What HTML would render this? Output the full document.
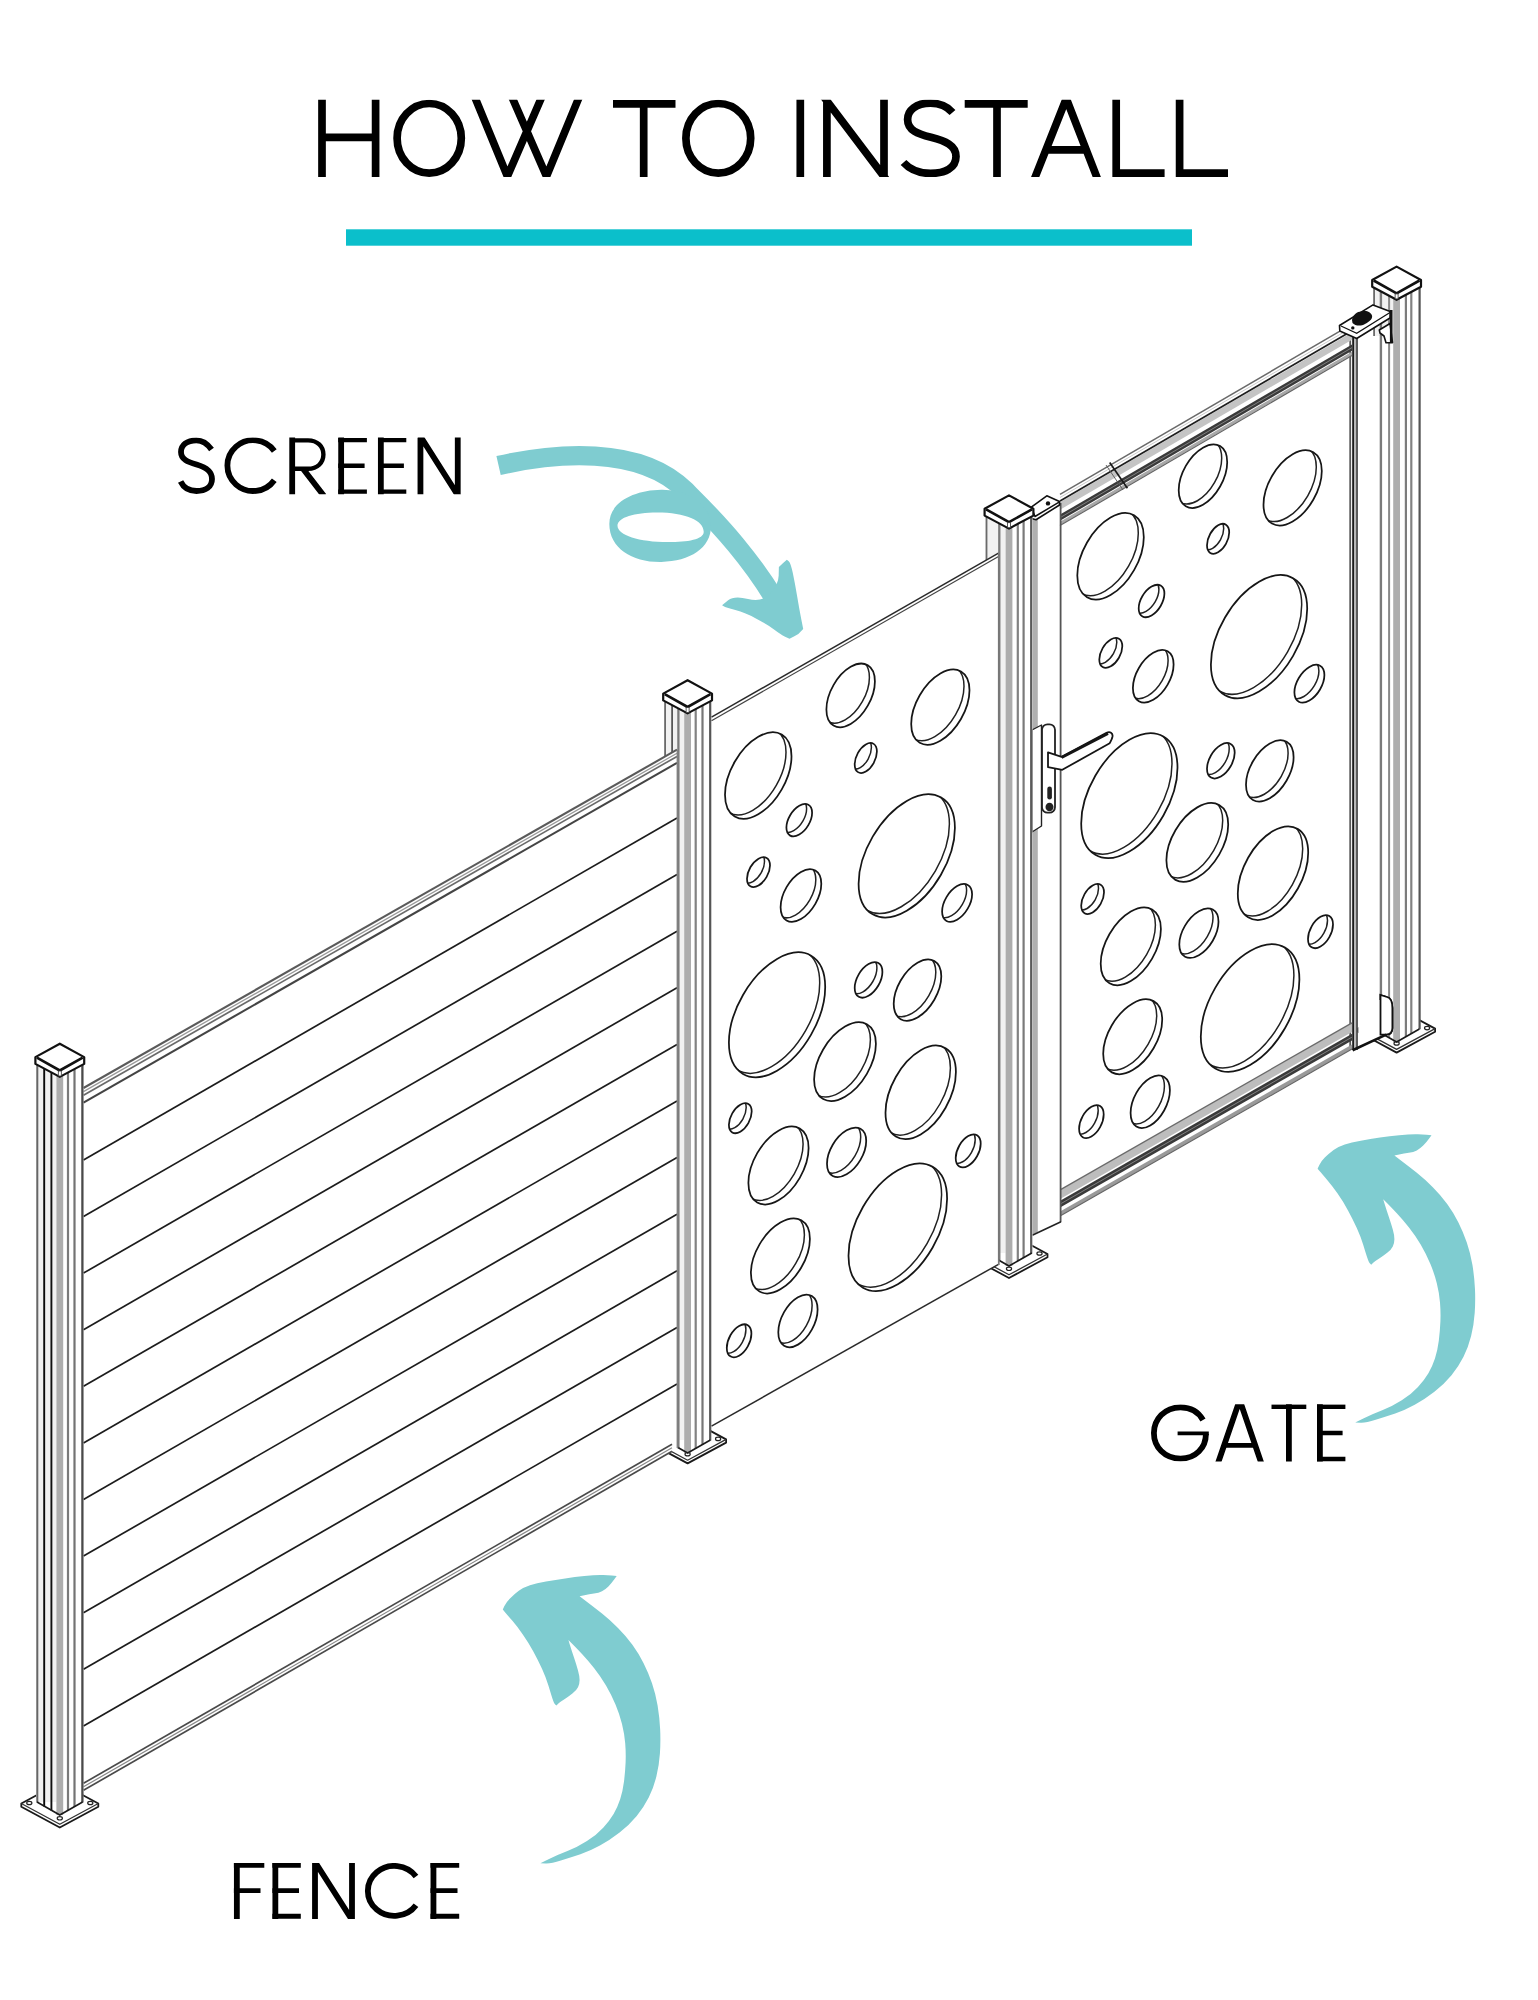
<!DOCTYPE html>
<html><head><meta charset="utf-8"><style>html,body{margin:0;padding:0;background:#fff;}svg{display:block;}</style></head>
<body><svg width="1538" height="2000" viewBox="0 0 1538 2000">
<rect width="1538" height="2000" fill="#fff"/>
<clipPath id="tclip"><rect x="300" y="99.8" width="950" height="77.2"/></clipPath>
<g clip-path="url(#tclip)" stroke="#000" stroke-width="7.7" fill="none" stroke-linejoin="miter" stroke-miterlimit="10">
<path d="M322,95 V182 M375.6,95 V182 M322,137.4 H375.6"/>
<ellipse cx="429.2" cy="138.3" rx="32.1" ry="34.8"/>
<path d="M472.3,91 L507.4,176.3 L542.6,95 M509.3,91 L546.5,176.3 L580,95" />
<path d="M613,103.9 H675.5 M643.7,100 V182"/>
<ellipse cx="718.3" cy="138.3" rx="32.4" ry="34.8"/>
<path d="M800.3,95 V182"/>
<path d="M826.9,95 V182 M884,95 V182 M822.4,95 L888.1,182"/>
<path d="M952.5,112.5 C946,105 938,103.2 930.5,103.2 C916,103.2 907.6,110 907.6,119.5 C907.6,130.5 918,134 931,137.3 C945,141 956,145 956,156.5 C956,168 945,173.4 930.5,173.4 C919,173.4 909.5,169 903.5,162.5"/>
<path d="M964.7,103.9 H1027.7 M997,100 V182"/>
<path d="M1033.2,182 L1066.3,98.5 L1098.7,182 M1045,149.8 H1088"/>
<path d="M1116.2,95 V173.1 H1164.6 M1179.6,95 V173.1 H1228"/>
</g>
<rect x="346" y="229.3" width="846" height="16.4" fill="#0bbfcb"/>
<clipPath id="sclip"><rect x="170" y="437.4" width="300" height="56.8"/></clipPath>
<g clip-path="url(#sclip)" stroke="#000" stroke-width="5.8" fill="none" stroke-miterlimit="10">
<path d="M211.5,449.5 C207,443 202,440.3 196.3,440.3 C187,440.3 181,445 181,452 C181,459.5 188,462 196.5,464.5 C206,467.3 212,471 212,479 C212,487 205.5,491 196.5,491 C189,491 183.5,487.5 180.6,481.5"/>
<path d="M274.3,451 A25.8,25.4 0 1 0 274.3,480.2"/>
<path d="M292.2,437 V495 M303,468.8 L324,496"/>
<path stroke-width="4.4" d="M292.2,440.4 H308 C317.5,440.4 323.4,446.5 323.4,454.6 C323.4,462.7 317.5,468.8 308,468.8 H292.2"/>
<path d="M341.15,435 V497 M380.85,435 V497"/>
<path stroke-width="4.4" d="M338.2,440.15 H366.9 M338.2,465.75 H364.6 M338.2,491.65 H366.9 M378,440.15 H406.3 M378,465.75 H403.9 M378,491.65 H406.3"/>
<path d="M420.45,435 V497 M457.75,435 V497 M418.0,432.5 L460.2,499"/>
</g>
<clipPath id="gclip"><rect x="1140" y="1404.3" width="220" height="57.3"/></clipPath>
<g clip-path="url(#gclip)" stroke="#000" stroke-width="5.8" fill="none" stroke-miterlimit="10">
<path d="M1203,1420 C1198,1411 1190,1407.3 1180.5,1407.3 C1164.5,1407.3 1153.9,1419.5 1153.9,1433 C1153.9,1447 1164.5,1458.6 1180.5,1458.6 C1195.5,1458.6 1205.9,1448 1205.9,1434"/>
<path stroke-width="3.9" d="M1177.6,1433.35 H1208.8"/>
<path d="M1217,1466 L1239.7,1400 L1262.3,1466"/>
<path stroke-width="4.7" d="M1225,1445.35 H1255 M1271.5,1406.75 H1306.3 M1317,1406.75 H1345.4 M1317,1433 H1342.6 M1317,1459.15 H1345.4"/>
<path d="M1288.9,1404 V1465 M1319.9,1400 V1466"/>
</g>
<clipPath id="fclip"><rect x="225" y="1862.9" width="245" height="56"/></clipPath>
<g clip-path="url(#fclip)" stroke="#000" stroke-width="5.8" fill="none" stroke-miterlimit="10">
<path d="M236.85,1858 V1925 M275.35,1858 V1925 M433.45,1858 V1925"/>
<path stroke-width="4.9" d="M233.9,1865.4 H264.3 M233.9,1890.6 H260.5 M272.4,1865.4 H300.8 M272.4,1890.6 H299 M272.4,1916.3 H300.8 M430.5,1865.4 H459.2 M430.5,1890.6 H457.5 M430.5,1916.3 H459.2"/>
<path d="M315,1858 V1925 M352,1858 V1925 M312.5,1858 L354.5,1923.8"/>
<path d="M416,1876.5 A26.5,25 0 1 0 416,1905.3"/>
</g>
<path d="M1358.1,1028.6 L1396.6,1007.8 L1435.1,1028.6 L1435.1,1031.8 L1396.6,1052.6 L1358.1,1031.8 Z" fill="#fff" stroke="#1a1a1a" stroke-width="1.8" stroke-linejoin="round"/>
<path d="M1358.1,1028.6 L1396.6,1049.4 L1435.1,1028.6" fill="none" stroke="#333" stroke-width="1.3" stroke-linejoin="round"/>
<ellipse cx="1366.1" cy="1028.1" rx="2.6" ry="1.7" fill="#fff" stroke="#222" stroke-width="1.2"/>
<ellipse cx="1427.1" cy="1028.1" rx="2.6" ry="1.7" fill="#fff" stroke="#222" stroke-width="1.2"/>
<ellipse cx="1396.6" cy="1043.4" rx="2.6" ry="1.7" fill="#fff" stroke="#222" stroke-width="1.2"/>
<path d="M1373.1,284.6 H1420.1 V1029.0 L1396.6,1042.0 L1373.1,1029.0 Z" fill="#fff"/>
<rect x="1373.1" y="284.6" width="20.0" height="51.4" fill="#f1f1f1"/>
<rect x="1393.2" y="284.6" width="6.8" height="757.4" fill="#adadad"/>
<line x1="1374.1" y1="284.6" x2="1374.1" y2="336.0" stroke="#6a6a6a" stroke-width="1.8"/>
<line x1="1380.9" y1="284.6" x2="1380.9" y2="1033.3" stroke="#7a7a7a" stroke-width="2.4"/>
<line x1="1389.1" y1="284.6" x2="1389.1" y2="1037.9" stroke="#888" stroke-width="2.0"/>
<line x1="1405.9" y1="284.6" x2="1405.9" y2="1036.9" stroke="#7c7c7c" stroke-width="2.2"/>
<line x1="1411.3" y1="284.6" x2="1411.3" y2="1033.9" stroke="#828282" stroke-width="2.2"/>
<line x1="1419.6" y1="284.6" x2="1419.6" y2="1029.3" stroke="#555" stroke-width="2.2"/>
<path d="M1373.8,1029.0 L1396.6,1042.0 L1419.4,1029.0" fill="none" stroke="#1a1a1a" stroke-width="1.6"/>
<path d="M1372.2,280.0 L1396.6,266.6 L1421.0,280.0 L1421.0,286.8 L1396.6,299.8 L1372.2,286.8 Z" fill="#fff" stroke="#111" stroke-width="2.2" stroke-linejoin="round"/>
<path d="M1373.7,280.5 L1396.6,293.4 L1419.5,280.5" fill="none" stroke="#111" stroke-width="2.6" stroke-linejoin="round"/>
<rect x="1395.1" y="293.9" width="3" height="5" fill="#fff" stroke="#333" stroke-width="0.8"/>
<path d="M1060.5,497 L1351,335.5 L1357.5,337 L1357.5,1050 L1351.8,1050 L1061,1212 L1061,1222 L1032.3,1235.3 L1031.2,499 Z" fill="#fff"/>
<line x1="1350.2" y1="337.0" x2="1350.2" y2="1050.0" stroke="#5a5a5a" stroke-width="1.8"/>
<line x1="1353.1" y1="337.0" x2="1353.1" y2="1050.0" stroke="#1a1a1a" stroke-width="1.8"/>
<line x1="1355.0" y1="337.0" x2="1355.0" y2="1050.0" stroke="#888" stroke-width="1.2"/>
<line x1="1357.0" y1="337.0" x2="1357.0" y2="1050.0" stroke="#333" stroke-width="1.6"/>
<path d="M1060.0,502.3 L1352.0,332.2 L1352.0,339.7 L1060.0,509.8 Z" fill="#c4c4c4"/>
<path d="M1060.0,514.6 L1352.0,344.5 L1352.0,350.7 L1060.0,520.8 Z" fill="#3a3a3a"/>
<path d="M1060.0,521.8 L1352.0,351.7 L1352.0,355.1 L1060.0,525.2 Z" fill="#a8a8a8"/>
<line x1="1060.0" y1="494.3" x2="1352.0" y2="324.2" stroke="#6a6a6a" stroke-width="1.5"/>
<line x1="1060.0" y1="497.5" x2="1352.0" y2="327.4" stroke="#bbb" stroke-width="0.8"/>
<line x1="1060.0" y1="500.9" x2="1352.0" y2="330.8" stroke="#1e1e1e" stroke-width="1.7"/>
<line x1="1060.0" y1="517.7" x2="1352.0" y2="347.6" stroke="#888" stroke-width="0.9"/>
<line x1="1060.0" y1="525.6" x2="1352.0" y2="355.5" stroke="#666" stroke-width="1.2"/>
<line x1="1109.7" y1="462.5" x2="1127.4" y2="488.3" stroke="#1a1a1a" stroke-width="1.7"/>
<line x1="1106.0" y1="465.0" x2="1123.0" y2="490.0" stroke="#555" stroke-width="0.9"/>
<path d="M1061.0,1189.6 L1352.0,1023.1 L1352.0,1031.9 L1061.0,1198.4 Z" fill="#bdbdbd"/>
<path d="M1061.0,1200.3 L1352.0,1033.8 L1352.0,1040.4 L1061.0,1206.9 Z" fill="#3a3a3a"/>
<path d="M1061.0,1210.9 L1352.0,1044.4 L1352.0,1049.0 L1061.0,1215.5 Z" fill="#9a9a9a"/>
<line x1="1061.0" y1="1189.4" x2="1352.0" y2="1022.9" stroke="#6a6a6a" stroke-width="1.3"/>
<line x1="1061.0" y1="1203.6" x2="1352.0" y2="1037.1" stroke="#888" stroke-width="0.9"/>
<line x1="1061.0" y1="1215.6" x2="1352.0" y2="1049.1" stroke="#666" stroke-width="1.1"/>
<path d="M1032.5,505 H1037.8 V1232 L1032.5,1234.5 Z" fill="#b0b0b0"/>
<line x1="1031.2" y1="517.0" x2="1031.2" y2="1235.0" stroke="#444" stroke-width="1.6"/>
<line x1="1060.6" y1="503.0" x2="1060.6" y2="1222.0" stroke="#555" stroke-width="1.8"/>
<line x1="1032.3" y1="1235.3" x2="1061.0" y2="1221.7" stroke="#222" stroke-width="1.6"/>
<path d="M1031,507.3 L1046.8,495.8 L1059.5,501.6 L1059.5,505 L1036,519.8 L1031.5,518.5 Z" fill="#fff" stroke="#111" stroke-width="1.6" stroke-linejoin="round"/>
<path d="M1031.5,507.5 L1035,516.5 L1059.5,501.8" fill="none" stroke="#111" stroke-width="1.5" stroke-linejoin="round"/>
<circle cx="1048" cy="503.4" r="2.2" fill="#111"/>
<path d="M1339.5,325.5 L1373,304.9 L1390.2,311.5 L1390,318 L1356.7,338.5 L1339.8,331 Z" fill="#fff" stroke="#111" stroke-width="1.6" stroke-linejoin="round"/>
<path d="M1341,326 L1356.7,333.3 L1390,312.5" fill="none" stroke="#111" stroke-width="1.3"/>
<circle cx="1352.8" cy="327.9" r="1.7" fill="#111"/>
<path d="M1352,320 C1353,314 1358,311 1362,311.5 C1366,310 1371,312 1372,315.5 C1373,319 1369,322 1365,324 C1361,326.5 1355,326 1352.5,323 Z" fill="#111"/>
<path d="M1379.3,330 L1390,323.5 L1392.5,342.7 L1386,342.7 L1384,336 L1380,333 Z" fill="#fff" stroke="#111" stroke-width="1.6" stroke-linejoin="round"/>
<line x1="1391.2" y1="310.0" x2="1391.2" y2="342.7" stroke="#111" stroke-width="2.6"/>
<path d="M1380.5,995 L1387,997 C1391,998 1392.4,1002 1392.4,1008 V1028 C1392.4,1032 1390,1034.5 1386,1034.6 L1380.5,1034.6 Z" fill="#fff" stroke="#111" stroke-width="1.8"/>
<path d="M1358.3,1000 L1381,1000 L1386.2,1034.6 L1358.3,1047.6 Z" fill="#fff"/>
<path d="M1380.5,995 L1387,997 C1391,998 1392.4,1002 1392.4,1008 V1028 C1392.4,1032 1390,1034.5 1386,1034.6 L1380.5,1034.6 Z" fill="#fff" stroke="#111" stroke-width="1.8"/>
<path d="M1352.6,1050.2 L1386.2,1034.6" stroke="#111" stroke-width="2.6"/>
<clipPath id="h1"><circle r="1" transform="matrix(24.250,-14.002,0,28.551,1202.95,476.20)"/></clipPath>
<g clip-path="url(#h1)"><circle r="1" transform="matrix(24.250,-14.002,0,28.551,1197.45,472.20)" fill="none" stroke="#222" stroke-width="1.5" vector-effect="non-scaling-stroke"/></g>
<circle r="1" transform="matrix(24.250,-14.002,0,28.551,1202.95,476.20)" fill="none" stroke="#161616" stroke-width="1.75" vector-effect="non-scaling-stroke"/>
<clipPath id="h2"><circle r="1" transform="matrix(29.150,-16.831,0,33.622,1292.65,487.90)"/></clipPath>
<g clip-path="url(#h2)"><circle r="1" transform="matrix(29.150,-16.831,0,33.622,1287.15,483.90)" fill="none" stroke="#222" stroke-width="1.5" vector-effect="non-scaling-stroke"/></g>
<circle r="1" transform="matrix(29.150,-16.831,0,33.622,1292.65,487.90)" fill="none" stroke="#161616" stroke-width="1.75" vector-effect="non-scaling-stroke"/>
<clipPath id="h3"><circle r="1" transform="matrix(33.250,-19.199,0,38.755,1110.55,556.35)"/></clipPath>
<g clip-path="url(#h3)"><circle r="1" transform="matrix(33.250,-19.199,0,38.755,1105.05,552.35)" fill="none" stroke="#222" stroke-width="1.5" vector-effect="non-scaling-stroke"/></g>
<circle r="1" transform="matrix(33.250,-19.199,0,38.755,1110.55,556.35)" fill="none" stroke="#161616" stroke-width="1.75" vector-effect="non-scaling-stroke"/>
<clipPath id="h4"><circle r="1" transform="matrix(11.100,-6.409,0,13.562,1218.10,538.80)"/></clipPath>
<g clip-path="url(#h4)"><circle r="1" transform="matrix(11.100,-6.409,0,13.562,1212.60,534.80)" fill="none" stroke="#222" stroke-width="1.5" vector-effect="non-scaling-stroke"/></g>
<circle r="1" transform="matrix(11.100,-6.409,0,13.562,1218.10,538.80)" fill="none" stroke="#161616" stroke-width="1.75" vector-effect="non-scaling-stroke"/>
<clipPath id="h5"><circle r="1" transform="matrix(12.850,-7.420,0,14.401,1151.55,601.00)"/></clipPath>
<g clip-path="url(#h5)"><circle r="1" transform="matrix(12.850,-7.420,0,14.401,1146.05,597.00)" fill="none" stroke="#222" stroke-width="1.5" vector-effect="non-scaling-stroke"/></g>
<circle r="1" transform="matrix(12.850,-7.420,0,14.401,1151.55,601.00)" fill="none" stroke="#161616" stroke-width="1.75" vector-effect="non-scaling-stroke"/>
<clipPath id="h6"><circle r="1" transform="matrix(48.150,-27.802,0,54.913,1259.05,636.65)"/></clipPath>
<g clip-path="url(#h6)"><circle r="1" transform="matrix(48.150,-27.802,0,54.913,1253.55,632.65)" fill="none" stroke="#222" stroke-width="1.5" vector-effect="non-scaling-stroke"/></g>
<circle r="1" transform="matrix(48.150,-27.802,0,54.913,1259.05,636.65)" fill="none" stroke="#161616" stroke-width="1.75" vector-effect="non-scaling-stroke"/>
<clipPath id="h7"><circle r="1" transform="matrix(11.500,-6.640,0,13.450,1110.80,652.90)"/></clipPath>
<g clip-path="url(#h7)"><circle r="1" transform="matrix(11.500,-6.640,0,13.450,1105.30,648.90)" fill="none" stroke="#222" stroke-width="1.5" vector-effect="non-scaling-stroke"/></g>
<circle r="1" transform="matrix(11.500,-6.640,0,13.450,1110.80,652.90)" fill="none" stroke="#161616" stroke-width="1.75" vector-effect="non-scaling-stroke"/>
<clipPath id="h8"><circle r="1" transform="matrix(20.350,-11.750,0,23.529,1153.25,676.30)"/></clipPath>
<g clip-path="url(#h8)"><circle r="1" transform="matrix(20.350,-11.750,0,23.529,1147.75,672.30)" fill="none" stroke="#222" stroke-width="1.5" vector-effect="non-scaling-stroke"/></g>
<circle r="1" transform="matrix(20.350,-11.750,0,23.529,1153.25,676.30)" fill="none" stroke="#161616" stroke-width="1.75" vector-effect="non-scaling-stroke"/>
<clipPath id="h9"><circle r="1" transform="matrix(15.000,-8.661,0,16.799,1309.40,683.70)"/></clipPath>
<g clip-path="url(#h9)"><circle r="1" transform="matrix(15.000,-8.661,0,16.799,1303.90,679.70)" fill="none" stroke="#222" stroke-width="1.5" vector-effect="non-scaling-stroke"/></g>
<circle r="1" transform="matrix(15.000,-8.661,0,16.799,1309.40,683.70)" fill="none" stroke="#161616" stroke-width="1.75" vector-effect="non-scaling-stroke"/>
<clipPath id="h10"><circle r="1" transform="matrix(48.150,-27.802,0,55.864,1129.35,795.60)"/></clipPath>
<g clip-path="url(#h10)"><circle r="1" transform="matrix(48.150,-27.802,0,55.864,1123.85,791.60)" fill="none" stroke="#222" stroke-width="1.5" vector-effect="non-scaling-stroke"/></g>
<circle r="1" transform="matrix(48.150,-27.802,0,55.864,1129.35,795.60)" fill="none" stroke="#161616" stroke-width="1.75" vector-effect="non-scaling-stroke"/>
<clipPath id="h11"><circle r="1" transform="matrix(13.850,-7.997,0,15.846,1220.85,760.75)"/></clipPath>
<g clip-path="url(#h11)"><circle r="1" transform="matrix(13.850,-7.997,0,15.846,1215.35,756.75)" fill="none" stroke="#222" stroke-width="1.5" vector-effect="non-scaling-stroke"/></g>
<circle r="1" transform="matrix(13.850,-7.997,0,15.846,1220.85,760.75)" fill="none" stroke="#161616" stroke-width="1.75" vector-effect="non-scaling-stroke"/>
<clipPath id="h12"><circle r="1" transform="matrix(23.800,-13.742,0,27.341,1269.80,770.90)"/></clipPath>
<g clip-path="url(#h12)"><circle r="1" transform="matrix(23.800,-13.742,0,27.341,1264.30,766.90)" fill="none" stroke="#222" stroke-width="1.5" vector-effect="non-scaling-stroke"/></g>
<circle r="1" transform="matrix(23.800,-13.742,0,27.341,1269.80,770.90)" fill="none" stroke="#161616" stroke-width="1.75" vector-effect="non-scaling-stroke"/>
<clipPath id="h13"><circle r="1" transform="matrix(30.900,-17.842,0,35.073,1197.30,842.45)"/></clipPath>
<g clip-path="url(#h13)"><circle r="1" transform="matrix(30.900,-17.842,0,35.073,1191.80,838.45)" fill="none" stroke="#222" stroke-width="1.5" vector-effect="non-scaling-stroke"/></g>
<circle r="1" transform="matrix(30.900,-17.842,0,35.073,1197.30,842.45)" fill="none" stroke="#161616" stroke-width="1.75" vector-effect="non-scaling-stroke"/>
<clipPath id="h14"><circle r="1" transform="matrix(35.200,-20.324,0,42.101,1273.00,873.15)"/></clipPath>
<g clip-path="url(#h14)"><circle r="1" transform="matrix(35.200,-20.324,0,42.101,1267.50,869.15)" fill="none" stroke="#222" stroke-width="1.5" vector-effect="non-scaling-stroke"/></g>
<circle r="1" transform="matrix(35.200,-20.324,0,42.101,1273.00,873.15)" fill="none" stroke="#161616" stroke-width="1.75" vector-effect="non-scaling-stroke"/>
<clipPath id="h15"><circle r="1" transform="matrix(11.400,-6.582,0,13.479,1092.60,899.00)"/></clipPath>
<g clip-path="url(#h15)"><circle r="1" transform="matrix(11.400,-6.582,0,13.479,1087.10,895.00)" fill="none" stroke="#222" stroke-width="1.5" vector-effect="non-scaling-stroke"/></g>
<circle r="1" transform="matrix(11.400,-6.582,0,13.479,1092.60,899.00)" fill="none" stroke="#161616" stroke-width="1.75" vector-effect="non-scaling-stroke"/>
<clipPath id="h16"><circle r="1" transform="matrix(30.100,-17.380,0,34.802,1130.80,946.30)"/></clipPath>
<g clip-path="url(#h16)"><circle r="1" transform="matrix(30.100,-17.380,0,34.802,1125.30,942.30)" fill="none" stroke="#222" stroke-width="1.5" vector-effect="non-scaling-stroke"/></g>
<circle r="1" transform="matrix(30.100,-17.380,0,34.802,1130.80,946.30)" fill="none" stroke="#161616" stroke-width="1.75" vector-effect="non-scaling-stroke"/>
<clipPath id="h17"><circle r="1" transform="matrix(19.600,-11.317,0,22.011,1198.90,933.15)"/></clipPath>
<g clip-path="url(#h17)"><circle r="1" transform="matrix(19.600,-11.317,0,22.011,1193.40,929.15)" fill="none" stroke="#222" stroke-width="1.5" vector-effect="non-scaling-stroke"/></g>
<circle r="1" transform="matrix(19.600,-11.317,0,22.011,1198.90,933.15)" fill="none" stroke="#161616" stroke-width="1.75" vector-effect="non-scaling-stroke"/>
<clipPath id="h18"><circle r="1" transform="matrix(12.500,-7.217,0,14.838,1320.50,931.70)"/></clipPath>
<g clip-path="url(#h18)"><circle r="1" transform="matrix(12.500,-7.217,0,14.838,1315.00,927.70)" fill="none" stroke="#222" stroke-width="1.5" vector-effect="non-scaling-stroke"/></g>
<circle r="1" transform="matrix(12.500,-7.217,0,14.838,1320.50,931.70)" fill="none" stroke="#161616" stroke-width="1.75" vector-effect="non-scaling-stroke"/>
<clipPath id="h19"><circle r="1" transform="matrix(49.300,-28.466,0,57.042,1250.10,1008.05)"/></clipPath>
<g clip-path="url(#h19)"><circle r="1" transform="matrix(49.300,-28.466,0,57.042,1244.60,1004.05)" fill="none" stroke="#222" stroke-width="1.5" vector-effect="non-scaling-stroke"/></g>
<circle r="1" transform="matrix(49.300,-28.466,0,57.042,1250.10,1008.05)" fill="none" stroke="#161616" stroke-width="1.75" vector-effect="non-scaling-stroke"/>
<clipPath id="h20"><circle r="1" transform="matrix(29.500,-17.033,0,33.352,1132.70,1036.75)"/></clipPath>
<g clip-path="url(#h20)"><circle r="1" transform="matrix(29.500,-17.033,0,33.352,1127.20,1032.75)" fill="none" stroke="#222" stroke-width="1.5" vector-effect="non-scaling-stroke"/></g>
<circle r="1" transform="matrix(29.500,-17.033,0,33.352,1132.70,1036.75)" fill="none" stroke="#161616" stroke-width="1.75" vector-effect="non-scaling-stroke"/>
<clipPath id="h21"><circle r="1" transform="matrix(19.650,-11.346,0,23.727,1150.25,1101.70)"/></clipPath>
<g clip-path="url(#h21)"><circle r="1" transform="matrix(19.650,-11.346,0,23.727,1144.75,1097.70)" fill="none" stroke="#222" stroke-width="1.5" vector-effect="non-scaling-stroke"/></g>
<circle r="1" transform="matrix(19.650,-11.346,0,23.727,1150.25,1101.70)" fill="none" stroke="#161616" stroke-width="1.75" vector-effect="non-scaling-stroke"/>
<clipPath id="h22"><circle r="1" transform="matrix(12.300,-7.102,0,14.893,1091.40,1121.60)"/></clipPath>
<g clip-path="url(#h22)"><circle r="1" transform="matrix(12.300,-7.102,0,14.893,1085.90,1117.60)" fill="none" stroke="#222" stroke-width="1.5" vector-effect="non-scaling-stroke"/></g>
<circle r="1" transform="matrix(12.300,-7.102,0,14.893,1091.40,1121.60)" fill="none" stroke="#161616" stroke-width="1.75" vector-effect="non-scaling-stroke"/>
<path d="M1032,730 L1041.5,725 L1041.5,826 L1032,832 Z" fill="#fff" stroke="#222" stroke-width="1.4" stroke-linejoin="round"/>
<rect x="1042" y="724.3" width="13" height="88.4" rx="5.5" fill="#fff" stroke="#222" stroke-width="1.8"/>
<path d="M1048,752.3 L1061.6,756.8 L1106.5,732.8 C1110,731 1113,733 1112.5,736.5 C1112,739.5 1110.5,741.5 1109.7,743.2 L1062.3,769.8 L1048,767.2 Z" fill="#fff" stroke="#151515" stroke-width="1.8" stroke-linejoin="round"/>
<line x1="1061.6" y1="757.5" x2="1108.0" y2="733.5" stroke="#151515" stroke-width="2.8"/>
<rect x="1047.3" y="786.5" width="4.6" height="13" rx="2.3" fill="#222"/>
<ellipse cx="1049.5" cy="807" rx="4" ry="4.3" fill="#222"/>
<path d="M970.5,1254.0 L1009.0,1233.2 L1047.5,1254.0 L1047.5,1257.2 L1009.0,1278.0 L970.5,1257.2 Z" fill="#fff" stroke="#1a1a1a" stroke-width="1.8" stroke-linejoin="round"/>
<path d="M970.5,1254.0 L1009.0,1274.8 L1047.5,1254.0" fill="none" stroke="#333" stroke-width="1.3" stroke-linejoin="round"/>
<ellipse cx="978.5" cy="1253.5" rx="2.6" ry="1.7" fill="#fff" stroke="#222" stroke-width="1.2"/>
<ellipse cx="1039.5" cy="1253.5" rx="2.6" ry="1.7" fill="#fff" stroke="#222" stroke-width="1.2"/>
<ellipse cx="1009.0" cy="1268.8" rx="2.6" ry="1.7" fill="#fff" stroke="#222" stroke-width="1.2"/>
<path d="M985.5,513.4 H1032.5 V1253.0 L1009.0,1266.0 L985.5,1253.0 Z" fill="#fff"/>
<rect x="985.5" y="513.4" width="20.0" height="739.6" fill="#f1f1f1"/>
<rect x="1005.6" y="513.4" width="6.8" height="752.6" fill="#adadad"/>
<line x1="986.5" y1="513.4" x2="986.5" y2="1253.6" stroke="#6a6a6a" stroke-width="1.8"/>
<line x1="999.3" y1="513.4" x2="999.3" y2="1260.6" stroke="#7a7a7a" stroke-width="2.3"/>
<line x1="1017.8" y1="513.4" x2="1017.8" y2="1261.1" stroke="#828282" stroke-width="2.2"/>
<line x1="1023.6" y1="513.4" x2="1023.6" y2="1257.9" stroke="#7a7a7a" stroke-width="2.2"/>
<line x1="1031.2" y1="513.4" x2="1031.2" y2="1253.7" stroke="#5a5a5a" stroke-width="2.2"/>
<path d="M986.2,1253.0 L1009.0,1266.0 L1031.8,1253.0" fill="none" stroke="#1a1a1a" stroke-width="1.6"/>
<path d="M984.6,508.8 L1009.0,495.4 L1033.4,508.8 L1033.4,515.6 L1009.0,528.6 L984.6,515.6 Z" fill="#fff" stroke="#111" stroke-width="2.2" stroke-linejoin="round"/>
<path d="M986.1,509.3 L1009.0,522.2 L1031.9,509.3" fill="none" stroke="#111" stroke-width="2.6" stroke-linejoin="round"/>
<rect x="1007.5" y="522.7" width="3" height="5" fill="#fff" stroke="#333" stroke-width="0.8"/>
<path d="M711.5,717.2 L998.5,553.2 L998.5,1264.5 L711.5,1426.2 Z" fill="#fff"/>
<line x1="711.5" y1="717.2" x2="998.5" y2="553.2" stroke="#2a2a2a" stroke-width="1.5"/>
<line x1="711.5" y1="720.8" x2="998.5" y2="556.6" stroke="#444" stroke-width="1.2"/>
<line x1="711.5" y1="1426.2" x2="998.5" y2="1264.3" stroke="#2a2a2a" stroke-width="1.5"/>
<line x1="998.8" y1="553.0" x2="998.8" y2="1265.0" stroke="#777" stroke-width="1.8"/>
<clipPath id="h23"><circle r="1" transform="matrix(24.250,-14.002,0,28.551,850.65,695.40)"/></clipPath>
<g clip-path="url(#h23)"><circle r="1" transform="matrix(24.250,-14.002,0,28.551,845.15,691.40)" fill="none" stroke="#222" stroke-width="1.5" vector-effect="non-scaling-stroke"/></g>
<circle r="1" transform="matrix(24.250,-14.002,0,28.551,850.65,695.40)" fill="none" stroke="#161616" stroke-width="1.75" vector-effect="non-scaling-stroke"/>
<clipPath id="h24"><circle r="1" transform="matrix(29.150,-16.831,0,33.622,940.35,707.10)"/></clipPath>
<g clip-path="url(#h24)"><circle r="1" transform="matrix(29.150,-16.831,0,33.622,934.85,703.10)" fill="none" stroke="#222" stroke-width="1.5" vector-effect="non-scaling-stroke"/></g>
<circle r="1" transform="matrix(29.150,-16.831,0,33.622,940.35,707.10)" fill="none" stroke="#161616" stroke-width="1.75" vector-effect="non-scaling-stroke"/>
<clipPath id="h25"><circle r="1" transform="matrix(33.250,-19.199,0,38.755,758.25,775.55)"/></clipPath>
<g clip-path="url(#h25)"><circle r="1" transform="matrix(33.250,-19.199,0,38.755,752.75,771.55)" fill="none" stroke="#222" stroke-width="1.5" vector-effect="non-scaling-stroke"/></g>
<circle r="1" transform="matrix(33.250,-19.199,0,38.755,758.25,775.55)" fill="none" stroke="#161616" stroke-width="1.75" vector-effect="non-scaling-stroke"/>
<clipPath id="h26"><circle r="1" transform="matrix(11.100,-6.409,0,13.562,865.80,758.00)"/></clipPath>
<g clip-path="url(#h26)"><circle r="1" transform="matrix(11.100,-6.409,0,13.562,860.30,754.00)" fill="none" stroke="#222" stroke-width="1.5" vector-effect="non-scaling-stroke"/></g>
<circle r="1" transform="matrix(11.100,-6.409,0,13.562,865.80,758.00)" fill="none" stroke="#161616" stroke-width="1.75" vector-effect="non-scaling-stroke"/>
<clipPath id="h27"><circle r="1" transform="matrix(12.850,-7.420,0,14.401,799.25,820.20)"/></clipPath>
<g clip-path="url(#h27)"><circle r="1" transform="matrix(12.850,-7.420,0,14.401,793.75,816.20)" fill="none" stroke="#222" stroke-width="1.5" vector-effect="non-scaling-stroke"/></g>
<circle r="1" transform="matrix(12.850,-7.420,0,14.401,799.25,820.20)" fill="none" stroke="#161616" stroke-width="1.75" vector-effect="non-scaling-stroke"/>
<clipPath id="h28"><circle r="1" transform="matrix(48.150,-27.802,0,54.913,906.75,855.85)"/></clipPath>
<g clip-path="url(#h28)"><circle r="1" transform="matrix(48.150,-27.802,0,54.913,901.25,851.85)" fill="none" stroke="#222" stroke-width="1.5" vector-effect="non-scaling-stroke"/></g>
<circle r="1" transform="matrix(48.150,-27.802,0,54.913,906.75,855.85)" fill="none" stroke="#161616" stroke-width="1.75" vector-effect="non-scaling-stroke"/>
<clipPath id="h29"><circle r="1" transform="matrix(11.500,-6.640,0,13.450,758.50,872.10)"/></clipPath>
<g clip-path="url(#h29)"><circle r="1" transform="matrix(11.500,-6.640,0,13.450,753.00,868.10)" fill="none" stroke="#222" stroke-width="1.5" vector-effect="non-scaling-stroke"/></g>
<circle r="1" transform="matrix(11.500,-6.640,0,13.450,758.50,872.10)" fill="none" stroke="#161616" stroke-width="1.75" vector-effect="non-scaling-stroke"/>
<clipPath id="h30"><circle r="1" transform="matrix(20.350,-11.750,0,23.529,800.95,895.50)"/></clipPath>
<g clip-path="url(#h30)"><circle r="1" transform="matrix(20.350,-11.750,0,23.529,795.45,891.50)" fill="none" stroke="#222" stroke-width="1.5" vector-effect="non-scaling-stroke"/></g>
<circle r="1" transform="matrix(20.350,-11.750,0,23.529,800.95,895.50)" fill="none" stroke="#161616" stroke-width="1.75" vector-effect="non-scaling-stroke"/>
<clipPath id="h31"><circle r="1" transform="matrix(15.000,-8.661,0,16.799,957.10,902.90)"/></clipPath>
<g clip-path="url(#h31)"><circle r="1" transform="matrix(15.000,-8.661,0,16.799,951.60,898.90)" fill="none" stroke="#222" stroke-width="1.5" vector-effect="non-scaling-stroke"/></g>
<circle r="1" transform="matrix(15.000,-8.661,0,16.799,957.10,902.90)" fill="none" stroke="#161616" stroke-width="1.75" vector-effect="non-scaling-stroke"/>
<clipPath id="h32"><circle r="1" transform="matrix(48.150,-27.802,0,55.864,777.05,1014.80)"/></clipPath>
<g clip-path="url(#h32)"><circle r="1" transform="matrix(48.150,-27.802,0,55.864,771.55,1010.80)" fill="none" stroke="#222" stroke-width="1.5" vector-effect="non-scaling-stroke"/></g>
<circle r="1" transform="matrix(48.150,-27.802,0,55.864,777.05,1014.80)" fill="none" stroke="#161616" stroke-width="1.75" vector-effect="non-scaling-stroke"/>
<clipPath id="h33"><circle r="1" transform="matrix(13.850,-7.997,0,15.846,868.55,979.95)"/></clipPath>
<g clip-path="url(#h33)"><circle r="1" transform="matrix(13.850,-7.997,0,15.846,863.05,975.95)" fill="none" stroke="#222" stroke-width="1.5" vector-effect="non-scaling-stroke"/></g>
<circle r="1" transform="matrix(13.850,-7.997,0,15.846,868.55,979.95)" fill="none" stroke="#161616" stroke-width="1.75" vector-effect="non-scaling-stroke"/>
<clipPath id="h34"><circle r="1" transform="matrix(23.800,-13.742,0,27.341,917.50,990.10)"/></clipPath>
<g clip-path="url(#h34)"><circle r="1" transform="matrix(23.800,-13.742,0,27.341,912.00,986.10)" fill="none" stroke="#222" stroke-width="1.5" vector-effect="non-scaling-stroke"/></g>
<circle r="1" transform="matrix(23.800,-13.742,0,27.341,917.50,990.10)" fill="none" stroke="#161616" stroke-width="1.75" vector-effect="non-scaling-stroke"/>
<clipPath id="h35"><circle r="1" transform="matrix(30.900,-17.842,0,35.073,845.00,1061.65)"/></clipPath>
<g clip-path="url(#h35)"><circle r="1" transform="matrix(30.900,-17.842,0,35.073,839.50,1057.65)" fill="none" stroke="#222" stroke-width="1.5" vector-effect="non-scaling-stroke"/></g>
<circle r="1" transform="matrix(30.900,-17.842,0,35.073,845.00,1061.65)" fill="none" stroke="#161616" stroke-width="1.75" vector-effect="non-scaling-stroke"/>
<clipPath id="h36"><circle r="1" transform="matrix(35.200,-20.324,0,42.101,920.70,1092.35)"/></clipPath>
<g clip-path="url(#h36)"><circle r="1" transform="matrix(35.200,-20.324,0,42.101,915.20,1088.35)" fill="none" stroke="#222" stroke-width="1.5" vector-effect="non-scaling-stroke"/></g>
<circle r="1" transform="matrix(35.200,-20.324,0,42.101,920.70,1092.35)" fill="none" stroke="#161616" stroke-width="1.75" vector-effect="non-scaling-stroke"/>
<clipPath id="h37"><circle r="1" transform="matrix(11.400,-6.582,0,13.479,740.30,1118.20)"/></clipPath>
<g clip-path="url(#h37)"><circle r="1" transform="matrix(11.400,-6.582,0,13.479,734.80,1114.20)" fill="none" stroke="#222" stroke-width="1.5" vector-effect="non-scaling-stroke"/></g>
<circle r="1" transform="matrix(11.400,-6.582,0,13.479,740.30,1118.20)" fill="none" stroke="#161616" stroke-width="1.75" vector-effect="non-scaling-stroke"/>
<clipPath id="h38"><circle r="1" transform="matrix(30.100,-17.380,0,34.802,778.50,1165.50)"/></clipPath>
<g clip-path="url(#h38)"><circle r="1" transform="matrix(30.100,-17.380,0,34.802,773.00,1161.50)" fill="none" stroke="#222" stroke-width="1.5" vector-effect="non-scaling-stroke"/></g>
<circle r="1" transform="matrix(30.100,-17.380,0,34.802,778.50,1165.50)" fill="none" stroke="#161616" stroke-width="1.75" vector-effect="non-scaling-stroke"/>
<clipPath id="h39"><circle r="1" transform="matrix(19.600,-11.317,0,22.011,846.60,1152.35)"/></clipPath>
<g clip-path="url(#h39)"><circle r="1" transform="matrix(19.600,-11.317,0,22.011,841.10,1148.35)" fill="none" stroke="#222" stroke-width="1.5" vector-effect="non-scaling-stroke"/></g>
<circle r="1" transform="matrix(19.600,-11.317,0,22.011,846.60,1152.35)" fill="none" stroke="#161616" stroke-width="1.75" vector-effect="non-scaling-stroke"/>
<clipPath id="h40"><circle r="1" transform="matrix(12.500,-7.217,0,14.838,968.20,1150.90)"/></clipPath>
<g clip-path="url(#h40)"><circle r="1" transform="matrix(12.500,-7.217,0,14.838,962.70,1146.90)" fill="none" stroke="#222" stroke-width="1.5" vector-effect="non-scaling-stroke"/></g>
<circle r="1" transform="matrix(12.500,-7.217,0,14.838,968.20,1150.90)" fill="none" stroke="#161616" stroke-width="1.75" vector-effect="non-scaling-stroke"/>
<clipPath id="h41"><circle r="1" transform="matrix(49.300,-28.466,0,57.042,897.80,1227.25)"/></clipPath>
<g clip-path="url(#h41)"><circle r="1" transform="matrix(49.300,-28.466,0,57.042,892.30,1223.25)" fill="none" stroke="#222" stroke-width="1.5" vector-effect="non-scaling-stroke"/></g>
<circle r="1" transform="matrix(49.300,-28.466,0,57.042,897.80,1227.25)" fill="none" stroke="#161616" stroke-width="1.75" vector-effect="non-scaling-stroke"/>
<clipPath id="h42"><circle r="1" transform="matrix(29.500,-17.033,0,33.352,780.40,1255.95)"/></clipPath>
<g clip-path="url(#h42)"><circle r="1" transform="matrix(29.500,-17.033,0,33.352,774.90,1251.95)" fill="none" stroke="#222" stroke-width="1.5" vector-effect="non-scaling-stroke"/></g>
<circle r="1" transform="matrix(29.500,-17.033,0,33.352,780.40,1255.95)" fill="none" stroke="#161616" stroke-width="1.75" vector-effect="non-scaling-stroke"/>
<clipPath id="h43"><circle r="1" transform="matrix(19.650,-11.346,0,23.727,797.95,1320.90)"/></clipPath>
<g clip-path="url(#h43)"><circle r="1" transform="matrix(19.650,-11.346,0,23.727,792.45,1316.90)" fill="none" stroke="#222" stroke-width="1.5" vector-effect="non-scaling-stroke"/></g>
<circle r="1" transform="matrix(19.650,-11.346,0,23.727,797.95,1320.90)" fill="none" stroke="#161616" stroke-width="1.75" vector-effect="non-scaling-stroke"/>
<clipPath id="h44"><circle r="1" transform="matrix(12.300,-7.102,0,14.893,739.10,1340.80)"/></clipPath>
<g clip-path="url(#h44)"><circle r="1" transform="matrix(12.300,-7.102,0,14.893,733.60,1336.80)" fill="none" stroke="#222" stroke-width="1.5" vector-effect="non-scaling-stroke"/></g>
<circle r="1" transform="matrix(12.300,-7.102,0,14.893,739.10,1340.80)" fill="none" stroke="#161616" stroke-width="1.75" vector-effect="non-scaling-stroke"/>
<path d="M649.1,1439.4 L687.6,1418.6 L726.1,1439.4 L726.1,1442.6 L687.6,1463.4 L649.1,1442.6 Z" fill="#fff" stroke="#1a1a1a" stroke-width="1.8" stroke-linejoin="round"/>
<path d="M649.1,1439.4 L687.6,1460.2 L726.1,1439.4" fill="none" stroke="#333" stroke-width="1.3" stroke-linejoin="round"/>
<ellipse cx="657.1" cy="1438.9" rx="2.6" ry="1.7" fill="#fff" stroke="#222" stroke-width="1.2"/>
<ellipse cx="718.1" cy="1438.9" rx="2.6" ry="1.7" fill="#fff" stroke="#222" stroke-width="1.2"/>
<ellipse cx="687.6" cy="1454.2" rx="2.6" ry="1.7" fill="#fff" stroke="#222" stroke-width="1.2"/>
<path d="M664.1,698.2 H711.1 V1440.0 L687.6,1453.0 L664.1,1440.0 Z" fill="#fff"/>
<rect x="664.1" y="698.2" width="20.0" height="741.8" fill="#f1f1f1"/>
<rect x="684.2" y="698.2" width="6.8" height="754.8" fill="#adadad"/>
<line x1="665.1" y1="698.2" x2="665.1" y2="1440.6" stroke="#6a6a6a" stroke-width="1.8"/>
<line x1="672.1" y1="698.2" x2="672.1" y2="1444.4" stroke="#444" stroke-width="1.6"/>
<line x1="678.4" y1="698.2" x2="678.4" y2="1447.9" stroke="#7a7a7a" stroke-width="2.3"/>
<line x1="695.7" y1="698.2" x2="695.7" y2="1448.5" stroke="#828282" stroke-width="2.2"/>
<line x1="702.5" y1="698.2" x2="702.5" y2="1444.8" stroke="#777" stroke-width="2.2"/>
<line x1="710.2" y1="698.2" x2="710.2" y2="1440.5" stroke="#555" stroke-width="2.2"/>
<path d="M664.8,1440.0 L687.6,1453.0 L710.4,1440.0" fill="none" stroke="#1a1a1a" stroke-width="1.6"/>
<path d="M663.2,693.6 L687.6,680.2 L712.0,693.6 L712.0,700.4 L687.6,713.4 L663.2,700.4 Z" fill="#fff" stroke="#111" stroke-width="2.2" stroke-linejoin="round"/>
<path d="M664.7,694.1 L687.6,707.0 L710.5,694.1" fill="none" stroke="#111" stroke-width="2.6" stroke-linejoin="round"/>
<rect x="686.1" y="707.5" width="3" height="5" fill="#fff" stroke="#333" stroke-width="0.8"/>
<path d="M83.5,1088 L677.0,749.7 L677.0,1448.5 L83.5,1790.5 Z" fill="#fff"/>
<line x1="83.5" y1="1159.9" x2="677.0" y2="818.0" stroke="#1c1c1c" stroke-width="1.7"/>
<line x1="83.5" y1="1216.5" x2="677.0" y2="874.6" stroke="#1c1c1c" stroke-width="1.7"/>
<line x1="83.5" y1="1273.1" x2="677.0" y2="931.2" stroke="#1c1c1c" stroke-width="1.7"/>
<line x1="83.5" y1="1329.7" x2="677.0" y2="987.8" stroke="#1c1c1c" stroke-width="1.7"/>
<line x1="83.5" y1="1386.3" x2="677.0" y2="1044.4" stroke="#1c1c1c" stroke-width="1.7"/>
<line x1="83.5" y1="1442.9" x2="677.0" y2="1101.0" stroke="#1c1c1c" stroke-width="1.7"/>
<line x1="83.5" y1="1499.5" x2="677.0" y2="1157.6" stroke="#1c1c1c" stroke-width="1.7"/>
<line x1="83.5" y1="1556.1" x2="677.0" y2="1214.2" stroke="#1c1c1c" stroke-width="1.7"/>
<line x1="83.5" y1="1612.7" x2="677.0" y2="1270.8" stroke="#1c1c1c" stroke-width="1.7"/>
<line x1="83.5" y1="1669.3" x2="677.0" y2="1327.4" stroke="#1c1c1c" stroke-width="1.7"/>
<line x1="83.5" y1="1725.9" x2="677.0" y2="1384.0" stroke="#1c1c1c" stroke-width="1.7"/>
<line x1="83.5" y1="1088.0" x2="677.0" y2="749.7" stroke="#5a5a5a" stroke-width="2.1"/>
<line x1="83.5" y1="1091.6" x2="677.0" y2="753.2" stroke="#999" stroke-width="1.3"/>
<line x1="83.5" y1="1095.2" x2="677.0" y2="756.4" stroke="#6a6a6a" stroke-width="1.7"/>
<line x1="83.5" y1="1102.6" x2="677.0" y2="762.9" stroke="#444" stroke-width="2.1"/>
<line x1="83.5" y1="1783.3" x2="672.0" y2="1444.3" stroke="#4a4a4a" stroke-width="1.7"/>
<line x1="83.5" y1="1786.8" x2="672.0" y2="1447.8" stroke="#888" stroke-width="1.2"/>
<line x1="83.5" y1="1790.3" x2="672.0" y2="1451.3" stroke="#4a4a4a" stroke-width="1.7"/>
<line x1="677.5" y1="749.7" x2="677.5" y2="1448.0" stroke="#808080" stroke-width="1.8"/>
<path d="M21.3,1803.5 L59.8,1782.7 L98.3,1803.5 L98.3,1806.7 L59.8,1827.5 L21.3,1806.7 Z" fill="#fff" stroke="#1a1a1a" stroke-width="1.8" stroke-linejoin="round"/>
<path d="M21.3,1803.5 L59.8,1824.3 L98.3,1803.5" fill="none" stroke="#333" stroke-width="1.3" stroke-linejoin="round"/>
<ellipse cx="29.3" cy="1803.0" rx="2.6" ry="1.7" fill="#fff" stroke="#222" stroke-width="1.2"/>
<ellipse cx="90.3" cy="1803.0" rx="2.6" ry="1.7" fill="#fff" stroke="#222" stroke-width="1.2"/>
<ellipse cx="59.8" cy="1818.3" rx="2.6" ry="1.7" fill="#fff" stroke="#222" stroke-width="1.2"/>
<path d="M36.3,1061.7 H83.3 V1802.0 L59.8,1815.0 L36.3,1802.0 Z" fill="#fff"/>
<rect x="36.3" y="1061.7" width="20.0" height="740.3" fill="#f1f1f1"/>
<rect x="56.4" y="1061.7" width="6.8" height="753.3" fill="#adadad"/>
<line x1="37.3" y1="1061.7" x2="37.3" y2="1802.6" stroke="#666" stroke-width="2.0"/>
<line x1="44.2" y1="1061.7" x2="44.2" y2="1806.4" stroke="#0a0a0a" stroke-width="1.9"/>
<line x1="51.4" y1="1061.7" x2="51.4" y2="1810.4" stroke="#111" stroke-width="1.9"/>
<line x1="68.0" y1="1061.7" x2="68.0" y2="1810.5" stroke="#7a7a7a" stroke-width="2.2"/>
<line x1="74.5" y1="1061.7" x2="74.5" y2="1806.9" stroke="#737373" stroke-width="2.2"/>
<line x1="82.4" y1="1061.7" x2="82.4" y2="1802.5" stroke="#4a4a4a" stroke-width="2.3"/>
<path d="M37.0,1802.0 L59.8,1815.0 L82.6,1802.0" fill="none" stroke="#1a1a1a" stroke-width="1.6"/>
<path d="M35.4,1057.1 L59.8,1043.7 L84.2,1057.1 L84.2,1063.9 L59.8,1076.9 L35.4,1063.9 Z" fill="#fff" stroke="#111" stroke-width="2.2" stroke-linejoin="round"/>
<path d="M36.9,1057.6 L59.8,1070.5 L82.7,1057.6" fill="none" stroke="#111" stroke-width="2.6" stroke-linejoin="round"/>
<rect x="58.3" y="1071.0" width="3" height="5" fill="#fff" stroke="#333" stroke-width="0.8"/>
<g transform="translate(480,420) scale(0.22107)" fill="#7fccd0" stroke="none">
<path d="M84,206 C330,150 720,110 930,320 C1010,400 1260,640 1400,935" fill="none" stroke="#7fccd0" stroke-width="88" stroke-linecap="butt"/>
<path fill-rule="evenodd" d="M585,470 C585,370 700,318 820,316 C950,314 1045,390 1045,480 C1045,580 950,640 820,642 C690,644 585,580 585,470 Z M622,478 C622,440 700,418 800,418 C930,418 1012,455 1012,505 C1012,540 940,552 850,552 C720,552 622,520 622,478 Z"/>
<path d="M1102.5,843.0 L1095.0,838.0 L1122.5,815.5 Q1150.0,793.0 1212.5,809.5 Q1275.0,826.0 1312.5,785.5 Q1350.0,745.0 1351.0,705.0 L1352.0,665.0 L1370.0,648.5 L1388.0,632.0 L1396.5,638.5 Q1405.0,645.0 1415.0,692.5 Q1425.0,740.0 1435.0,800.0 Q1445.0,860.0 1453.5,902.5 L1462.0,945.0 L1451.0,956.5 L1440.0,968.0 L1420.0,979.0 L1400.0,990.0 L1380.0,980.0 Q1360.0,970.0 1330.0,947.5 Q1300.0,925.0 1250.0,898.5 Q1200.0,872.0 1155.0,860.0 Q1110.0,848.0 1102.5,843.0 Z"/>
</g>
<path transform="translate(1300,1120) scale(0.16)" fill="#7fccd0" d="M378.5,1891.5 L345.0,1890.0 L399.0,1864.0 Q453.0,1838.0 514.0,1814.5 Q575.0,1791.0 636.0,1752.0 Q697.0,1713.0 737.5,1668.5 Q778.0,1624.0 802.5,1582.5 Q827.0,1541.0 843.5,1490.5 Q860.0,1440.0 867.5,1380.0 Q875.0,1320.0 877.5,1260.0 Q880.0,1200.0 875.0,1140.0 Q870.0,1080.0 855.0,1020.0 Q840.0,960.0 815.0,900.0 Q790.0,840.0 755.0,780.0 Q720.0,720.0 680.0,670.0 Q640.0,620.0 605.0,582.5 Q570.0,545.0 545.0,520.0 L520.0,495.0 L530.0,527.5 Q540.0,560.0 555.0,605.0 Q570.0,650.0 580.0,685.0 Q590.0,720.0 590.0,745.0 Q590.0,770.0 580.0,790.0 Q570.0,810.0 545.0,830.0 Q520.0,850.0 495.0,865.0 Q470.0,880.0 457.5,892.5 L445.0,905.0 L437.5,897.5 Q430.0,890.0 420.0,860.0 Q410.0,830.0 395.0,780.0 Q380.0,730.0 355.0,675.0 Q330.0,620.0 300.0,565.0 Q270.0,510.0 235.0,460.0 Q200.0,410.0 170.0,375.0 Q140.0,340.0 125.0,322.5 L110.0,305.0 L120.0,282.5 Q130.0,260.0 155.0,235.0 Q180.0,210.0 210.0,187.5 Q240.0,165.0 280.0,152.5 Q320.0,140.0 380.0,130.0 Q440.0,120.0 500.0,110.0 Q560.0,100.0 620.0,95.0 Q680.0,90.0 720.0,89.0 Q760.0,88.0 791.0,91.5 L822.0,95.0 L806.0,117.5 Q790.0,140.0 770.0,160.0 Q750.0,180.0 730.0,190.0 Q710.0,200.0 680.0,205.0 Q650.0,210.0 620.0,216.0 L590.0,222.0 L635.0,256.0 Q680.0,290.0 730.0,330.0 Q780.0,370.0 830.0,420.0 Q880.0,470.0 920.0,525.0 Q960.0,580.0 990.0,640.0 Q1020.0,700.0 1042.5,765.0 Q1065.0,830.0 1077.5,905.0 Q1090.0,980.0 1093.5,1055.0 Q1097.0,1130.0 1092.0,1205.0 Q1087.0,1280.0 1069.5,1350.0 Q1052.0,1420.0 1022.0,1480.0 Q992.0,1540.0 947.0,1595.0 Q902.0,1650.0 840.0,1698.0 Q778.0,1746.0 717.0,1780.0 Q656.0,1814.0 595.0,1834.0 Q534.0,1854.0 473.0,1873.5 Q412.0,1893.0 378.5,1891.5 Z"/>
<path transform="translate(485.2,1560.8) scale(0.16)" fill="#7fccd0" d="M378.5,1891.5 L345.0,1890.0 L399.0,1864.0 Q453.0,1838.0 514.0,1814.5 Q575.0,1791.0 636.0,1752.0 Q697.0,1713.0 737.5,1668.5 Q778.0,1624.0 802.5,1582.5 Q827.0,1541.0 843.5,1490.5 Q860.0,1440.0 867.5,1380.0 Q875.0,1320.0 877.5,1260.0 Q880.0,1200.0 875.0,1140.0 Q870.0,1080.0 855.0,1020.0 Q840.0,960.0 815.0,900.0 Q790.0,840.0 755.0,780.0 Q720.0,720.0 680.0,670.0 Q640.0,620.0 605.0,582.5 Q570.0,545.0 545.0,520.0 L520.0,495.0 L530.0,527.5 Q540.0,560.0 555.0,605.0 Q570.0,650.0 580.0,685.0 Q590.0,720.0 590.0,745.0 Q590.0,770.0 580.0,790.0 Q570.0,810.0 545.0,830.0 Q520.0,850.0 495.0,865.0 Q470.0,880.0 457.5,892.5 L445.0,905.0 L437.5,897.5 Q430.0,890.0 420.0,860.0 Q410.0,830.0 395.0,780.0 Q380.0,730.0 355.0,675.0 Q330.0,620.0 300.0,565.0 Q270.0,510.0 235.0,460.0 Q200.0,410.0 170.0,375.0 Q140.0,340.0 125.0,322.5 L110.0,305.0 L120.0,282.5 Q130.0,260.0 155.0,235.0 Q180.0,210.0 210.0,187.5 Q240.0,165.0 280.0,152.5 Q320.0,140.0 380.0,130.0 Q440.0,120.0 500.0,110.0 Q560.0,100.0 620.0,95.0 Q680.0,90.0 720.0,89.0 Q760.0,88.0 791.0,91.5 L822.0,95.0 L806.0,117.5 Q790.0,140.0 770.0,160.0 Q750.0,180.0 730.0,190.0 Q710.0,200.0 680.0,205.0 Q650.0,210.0 620.0,216.0 L590.0,222.0 L635.0,256.0 Q680.0,290.0 730.0,330.0 Q780.0,370.0 830.0,420.0 Q880.0,470.0 920.0,525.0 Q960.0,580.0 990.0,640.0 Q1020.0,700.0 1042.5,765.0 Q1065.0,830.0 1077.5,905.0 Q1090.0,980.0 1093.5,1055.0 Q1097.0,1130.0 1092.0,1205.0 Q1087.0,1280.0 1069.5,1350.0 Q1052.0,1420.0 1022.0,1480.0 Q992.0,1540.0 947.0,1595.0 Q902.0,1650.0 840.0,1698.0 Q778.0,1746.0 717.0,1780.0 Q656.0,1814.0 595.0,1834.0 Q534.0,1854.0 473.0,1873.5 Q412.0,1893.0 378.5,1891.5 Z"/>
</svg></body></html>
